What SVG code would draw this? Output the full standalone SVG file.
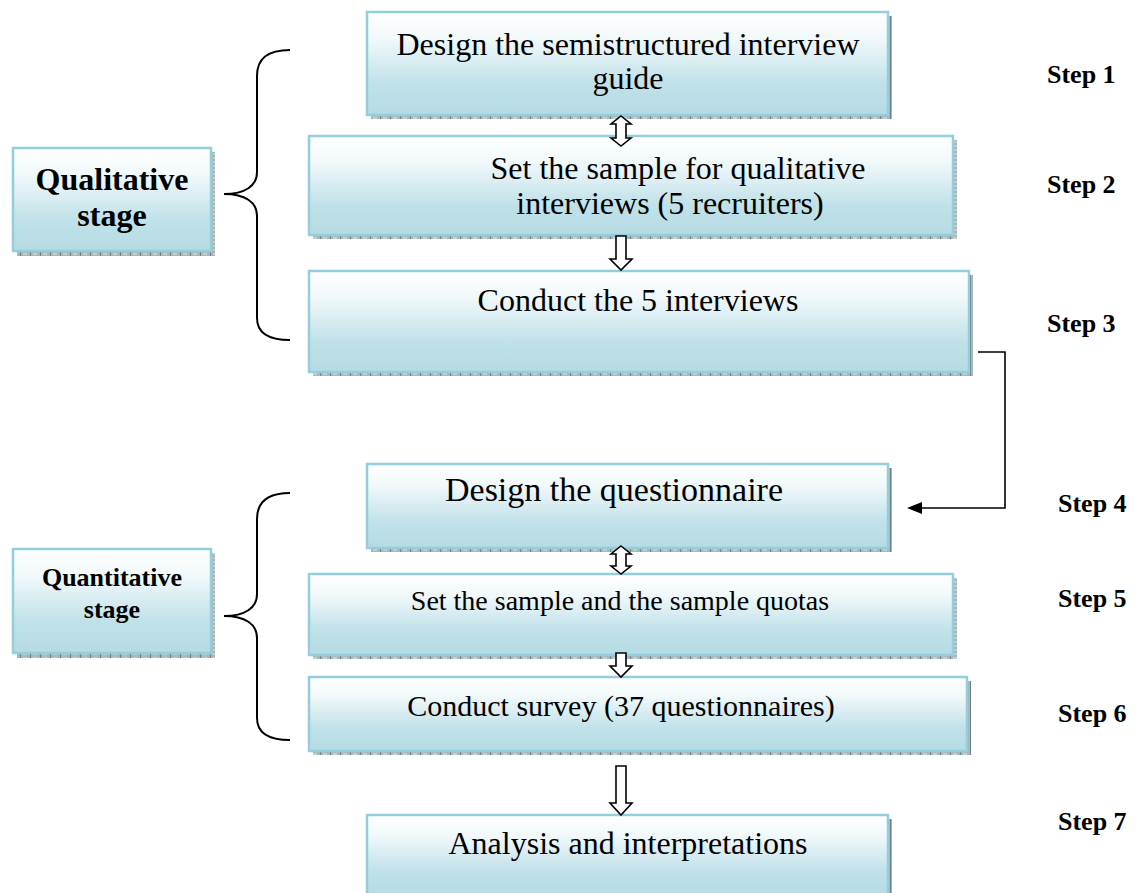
<svg xmlns="http://www.w3.org/2000/svg" width="1138" height="893" viewBox="0 0 1138 893" font-family="'Liberation Serif', 'Times New Roman', Times, 'DejaVu Serif', serif">
  <defs>
    <linearGradient id="boxFill" x1="0" y1="0" x2="0" y2="1">
      <stop offset="0" stop-color="#ffffff"/>
      <stop offset="0.25" stop-color="#f2f9fb"/>
      <stop offset="0.7" stop-color="#c0e1e9"/>
      <stop offset="1" stop-color="#b6dbe4"/>
    </linearGradient>
    <pattern id="shadowTex" width="10" height="4" patternUnits="userSpaceOnUse">
      <rect width="10" height="4" fill="#a9b6ba"/>
      <rect x="0" y="0" width="1" height="4" fill="#6f7f85"/>
      <rect x="3" y="1" width="4" height="2" fill="#c4cdd0"/>
    </pattern>
    <style>
      .shadow { fill: url(#shadowTex); }
      .box { fill: url(#boxFill); stroke: #93cedc; stroke-width: 2.5; }
      .label { font-family: 'Liberation Serif', 'Times New Roman', Times, 'DejaVu Serif', serif; fill: #000; text-anchor: middle; }
      .stage { font-family: 'Liberation Serif', 'Times New Roman', Times, 'DejaVu Serif', serif; font-weight: bold; fill: #000; text-anchor: middle; }
      .step { font-family: 'Liberation Serif', 'Times New Roman', Times, 'DejaVu Serif', serif; font-weight: bold; font-size: 26px; fill: #000; }
      .brace { fill: none; stroke: #000; stroke-width: 2; }
      .block { fill: #fff; stroke: #000; stroke-width: 1.6; stroke-linejoin: miter; }
      .line { fill: none; stroke: #000; stroke-width: 1.6; }
    </style>
  </defs>

  <!-- Stage boxes -->
  <g id="qualitative-stage">
    <rect class="shadow" x="17" y="152" width="198" height="104"/>
    <rect class="box" x="13" y="148" width="198" height="103"/>
    <text class="stage" x="112" y="190" font-size="32">Qualitative</text>
    <text class="stage" x="112" y="226" font-size="32">stage</text>
  </g>
  <g id="quantitative-stage">
    <rect class="shadow" x="17" y="553" width="198" height="105"/>
    <rect class="box" x="13" y="549" width="198" height="104"/>
    <text class="stage" x="112" y="586" font-size="26">Quantitative</text>
    <text class="stage" x="112" y="618" font-size="26">stage</text>
  </g>

  <!-- Step boxes -->
  <g id="step1-box">
    <rect class="shadow" x="371" y="16" width="521" height="103"/>
    <rect class="box" x="367" y="12" width="521" height="103"/>
    <text class="label" x="628" y="55" font-size="32">Design the semistructured interview</text>
    <text class="label" x="628" y="89" font-size="32">guide</text>
  </g>
  <g id="step2-box">
    <rect class="shadow" x="313" y="140" width="644" height="99"/>
    <rect class="box" x="309" y="136" width="644" height="99"/>
    <text class="label" x="678" y="179" font-size="32">Set the sample for qualitative</text>
    <text class="label" x="670" y="214" font-size="32">interviews (5 recruiters)</text>
  </g>
  <g id="step3-box">
    <rect class="shadow" x="313" y="275" width="660" height="101"/>
    <rect class="box" x="309" y="271" width="660" height="101"/>
    <text class="label" x="638" y="311" font-size="32">Conduct the 5 interviews</text>
  </g>
  <g id="step4-box">
    <rect class="shadow" x="371" y="468" width="521" height="84"/>
    <rect class="box" x="367" y="464" width="521" height="84"/>
    <text class="label" x="614" y="501" font-size="34">Design the questionnaire</text>
  </g>
  <g id="step5-box">
    <rect class="shadow" x="313" y="578" width="644" height="81"/>
    <rect class="box" x="309" y="574" width="644" height="81"/>
    <text class="label" x="620" y="610" font-size="28">Set the sample and the sample quotas</text>
  </g>
  <g id="step6-box">
    <rect class="shadow" x="313" y="681" width="658" height="74"/>
    <rect class="box" x="309" y="677" width="658" height="74"/>
    <text class="label" x="621" y="716" font-size="30">Conduct survey (37 questionnaires)</text>
  </g>
  <g id="step7-box">
    <rect class="shadow" x="371" y="819" width="521" height="80"/>
    <rect class="box" x="367" y="815" width="521" height="80"/>
    <text class="label" x="628" y="854" font-size="32">Analysis and interpretations</text>
  </g>

  <!-- Step labels -->
  <g id="step-labels">
    <text class="step" x="1047" y="83">Step 1</text>
    <text class="step" x="1047" y="193">Step 2</text>
    <text class="step" x="1047" y="332">Step 3</text>
    <text class="step" x="1058" y="512">Step 4</text>
    <text class="step" x="1058" y="607">Step 5</text>
    <text class="step" x="1058" y="722">Step  6</text>
    <text class="step" x="1058" y="830">Step 7</text>
  </g>

  <!-- Connectors: braces, block arrows and the elbow link -->
  <g id="connectors">
    <path class="brace" d="M290,50 C268,50 257,58 257,76 L257,172 C257,186 245,194 224,194 C245,194 257,202 257,216 L257,318 C257,332 268,340 290,340"/>
    <path class="brace" d="M290,493 C268,493 257,501 257,519 L257,594 C257,608 245,616 224,616 C245,616 257,624 257,638 L257,718 C257,732 268,740 290,740"/>

    <!-- double arrow between step 1 and step 2 -->
    <path class="block" d="M621,116 L631,124 L626,124 L626,138 L631,138 L621,146 L611,138 L616,138 L616,124 L611,124 Z"/>
    <!-- step 2 to step 3 -->
    <path class="block" d="M616,236 L626,236 L626,259 L632,259 L621,270 L610,259 L616,259 Z"/>
    <!-- double arrow between step 4 and step 5 -->
    <path class="block" d="M621,546 L631,554 L626,554 L626,566 L631,566 L621,574 L611,566 L616,566 L616,554 L611,554 Z"/>
    <!-- step 5 to step 6 -->
    <path class="block" d="M616,653 L626,653 L626,666 L632,666 L621,677 L610,666 L616,666 Z"/>
    <!-- step 6 to step 7 -->
    <path class="block" d="M616,766 L626,766 L626,803 L632,803 L621,815 L610,803 L616,803 Z"/>

    <!-- elbow link from step 3 to step 4 -->
    <path class="line" d="M978,352 H1005 V508 H920"/>
    <path d="M907,508 L922,502 L922,514 Z" fill="#000"/>
  </g>
</svg>
